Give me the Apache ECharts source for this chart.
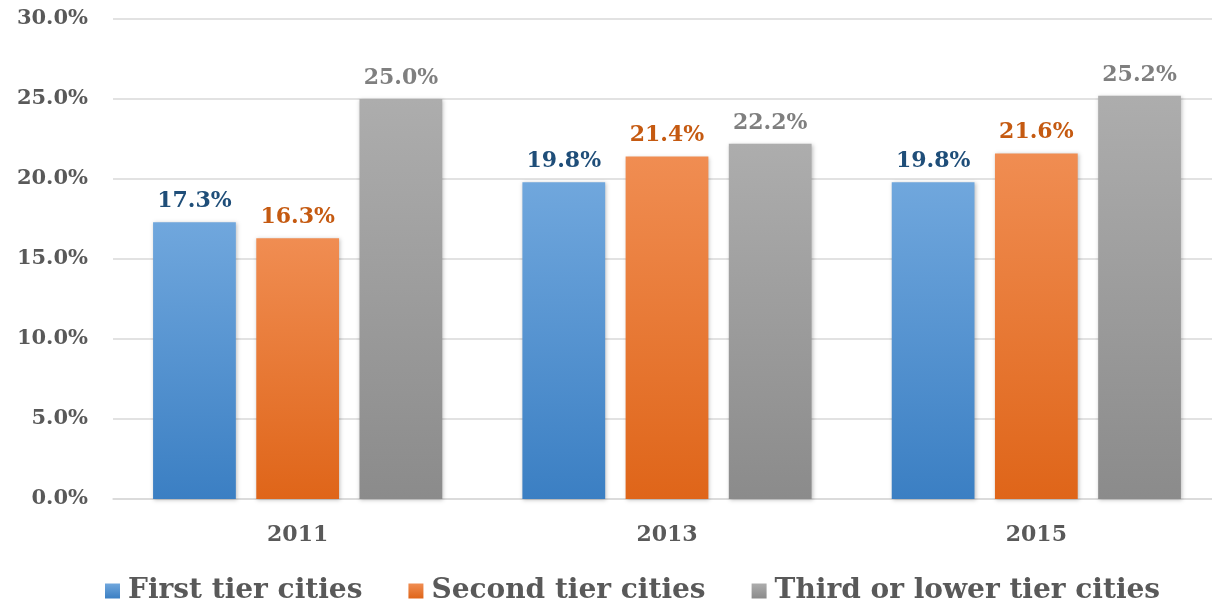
<!DOCTYPE html>
<html><head><meta charset="utf-8">
<script src="https://cdn.jsdelivr.net/npm/echarts@6/dist/echarts.min.js"></script>
<style>html,body{margin:0;padding:0;background:#fff}#c{width:1212px;height:605px}</style>
</head><body><div id="c"></div>
<script>
const categories = ['2011', '2013', '2015'];
const seriesNames = ['First tier cities', 'Second tier cities', 'Third or lower tier cities'];
const firstTier = [17.3, 19.8, 19.8];
const secondTier = [16.3, 21.4, 21.6];
const thirdTier = [25.0, 22.2, 25.2];
const yTicks = [0, 5, 10, 15, 20, 25, 30];

const FONT = '"DejaVu Serif", Georgia, serif';
const grads = [
  ['#70a7dd', '#3b7fc3'],
  ['#f08d52', '#df6519'],
  ['#adadad', '#8b8b8b']
];
const labelColors = ['#1f4e79', '#c55a11', '#7f7f7f'];
const dataSets = [firstTier, secondTier, thirdTier];

const chart = echarts.init(document.getElementById('c'));
chart.setOption({
  animation: false,
  grid: { left: 113, width: 1108, top: 19, height: 480, outerBoundsMode: 'none', containLabel: false },
  legend: {
    top: 572, left: 100,
    itemWidth: 15, itemHeight: 15, itemGap: 46,
    icon: 'rect',
    textStyle: { fontFamily: FONT, fontWeight: 'bold', fontSize: 28, color: '#595959', padding: [0, 0, 0, 3] },
    data: seriesNames
  },
  xAxis: {
    type: 'category', data: categories,
    axisLine: { show: true, lineStyle: { color: '#d9d9d9', width: 1.5 } },
    axisTick: { show: false },
    axisLabel: { margin: 25, fontFamily: FONT, fontWeight: 'bold', fontSize: 22, color: '#595959' }
  },
  yAxis: {
    type: 'value', min: yTicks[0], max: yTicks[yTicks.length - 1], interval: 5,
    axisLine: { show: false }, axisTick: { show: false },
    splitLine: { lineStyle: { color: '#d9d9d9', width: 1.5 } },
    axisLabel: { margin: 25, fontFamily: FONT, fontWeight: 'bold', fontSize: 21, color: '#595959',
      formatter: v => v.toFixed(1) + '%' }
  },
  series: dataSets.map((d, i) => ({
    name: seriesNames[i], type: 'bar', data: d,
    barGap: '24.7%', barCategoryGap: '21.7%',
    itemStyle: {
      color: new echarts.graphic.LinearGradient(0, 0, 0, 1, [
        { offset: 0, color: grads[i][0] }, { offset: 1, color: grads[i][1] }
      ]),
      shadowColor: 'rgba(0,0,0,0.25)', shadowBlur: 4, shadowOffsetX: 1, shadowOffsetY: 1
    },
    label: {
      show: true, position: 'top', distance: 10,
      fontFamily: FONT, fontWeight: 'bold', fontSize: 22, color: labelColors[i],
      formatter: p => p.value.toFixed(1) + '%'
    }
  }))
});
</script></body></html>
